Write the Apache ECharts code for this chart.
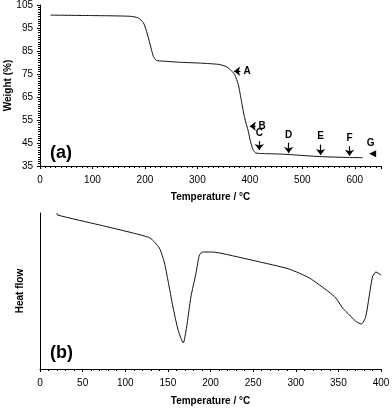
<!DOCTYPE html>
<html lang="en">
<head>
    <meta charset="UTF-8"/>
    <script type="text/javascript" src="https://cdn.jsdelivr.net/npm/echarts@6/dist/echarts.min.js"></script>
    <title>TGA / DSC</title>
    <style>
        body { margin: 0; background: #fff; }
        #main { width: 392px; height: 408px; }
    </style>
</head>
<body>
<div id="main"></div>
<script type="text/javascript">
    // (a) weight loss curve
    var tgaTemp   = [20, 100, 171, 187, 197, 203, 210, 216, 222, 235, 267, 300, 330, 343, 355, 362, 371, 378, 384, 390, 397, 401, 406, 411, 425, 457, 480, 533, 590, 615];
    var tgaWeight = [100.6, 100.4, 100.1, 99.4, 97.3, 93.6, 87.8, 82.7, 80.9, 80.6, 80.1, 79.8, 79.4, 79.1, 78.2, 77, 74.8, 70.4, 63.2, 56, 50.1, 45.8, 42.2, 40.7, 40.4, 40.2, 39.9, 39.1, 38.7, 38.6];
    var weightTicks = [35, 45, 55, 65, 75, 85, 95, 105];

    // arrows on (a): name, temperature, start and end of the arrow (weight for down arrows)
    var downNames = ['C', 'D', 'E', 'F'];
    var downTemp  = [418, 474, 535, 590];
    var downFrom  = [45.8, 45.1, 44.3, 43.6];
    var downTo    = [42.0, 40.6, 39.8, 39.5];
    var leftNames = ['A', 'B'];
    var leftWeight = [76.2, 52.3];
    var leftFrom  = [382, 411];
    var leftTo    = [370, 400];
    var gPoint = [634, 40.3];

    // (b) heat flow curve (arbitrary units)
    var dscTemp = [20, 20.5, 70, 109, 129, 140, 146, 150, 156, 162, 168, 172, 177, 183, 187, 191, 201, 211, 253, 292, 316, 339, 347, 355, 363, 370, 377, 382, 386, 390, 394, 400];
    var dscFlow = [156, 154, 144, 136, 131, 121, 106, 89, 62, 39, 26, 42, 72, 96, 114, 117, 117, 116, 108, 100, 91, 77, 71, 61, 54, 48, 45, 52, 72, 92, 97, 94];

    var tgaData = tgaTemp.map(function (t, i) { return [t, tgaWeight[i]]; });
    var dscData = dscTemp.map(function (t, i) { return [t, dscFlow[i]]; });

    var arrowLines = [];
    for (var i = 0; i < downNames.length; i++) {
        arrowLines.push([{coord: [downTemp[i], downFrom[i]], name: downNames[i]}, {coord: [downTemp[i], downTo[i]]}]);
    }
    for (var j = 0; j < leftNames.length; j++) {
        arrowLines.push([{coord: [leftFrom[j], leftWeight[j]], name: leftNames[j]}, {coord: [leftTo[j], leftWeight[j]]}]);
    }

    var font = 'Liberation Sans, Arial, sans-serif';
    var tickLabel = {color: '#000', fontSize: 10, fontFamily: font, margin: 9};
    var nameStyle = {color: '#000', fontSize: 10, fontWeight: 'bold', fontFamily: font};
    var axisLine = {lineStyle: {color: '#000', width: 1}};

    var myChart = echarts.init(document.getElementById('main'));
    var option = {
        animation: false,
        title: [
            {text: '(a)', left: 45, top: 139, textStyle: {fontSize: 18, fontWeight: 'bold', fontFamily: font, color: '#000'}},
            {text: '(b)', left: 45, top: 339, textStyle: {fontSize: 18, fontWeight: 'bold', fontFamily: font, color: '#000'}}
        ],
        grid: [
            {left: 40, top: 5, right: 11, height: 161, containLabel: false, outerBoundsMode: 'none'},
            {left: 40, top: 213, right: 11, height: 156, containLabel: false, outerBoundsMode: 'none'}
        ],
        xAxis: [{
            gridIndex: 0, type: 'value', min: 0, max: 650, interval: 100,
            name: 'Temperature / °C', nameLocation: 'middle', nameGap: 26, nameTextStyle: nameStyle,
            nameMoveOverlap: false,
            axisLine: axisLine,
            axisTick: {length: 3, lineStyle: {color: '#000'}},
            minorTick: {show: true, splitNumber: 10, length: 2, lineStyle: {color: '#000'}},
            axisLabel: Object.assign({showMaxLabel: false}, tickLabel),
            splitLine: {show: false}
        }, {
            gridIndex: 1, type: 'value', min: 0, max: 400, interval: 50,
            name: 'Temperature / °C', nameLocation: 'middle', nameGap: 27, nameTextStyle: nameStyle,
            nameMoveOverlap: false,
            axisLine: axisLine,
            axisTick: {length: 3, lineStyle: {color: '#000'}},
            minorTick: {show: true, splitNumber: 5, length: 2, lineStyle: {color: '#000'}},
            axisLabel: tickLabel,
            splitLine: {show: false}
        }],
        yAxis: [{
            gridIndex: 0, type: 'value', min: weightTicks[0], max: weightTicks[weightTicks.length - 1], interval: 10,
            name: 'Weight (%)', nameLocation: 'middle', nameGap: 27, nameTextStyle: nameStyle,
            nameMoveOverlap: false,
            axisLine: {show: true, lineStyle: {color: '#000', width: 1}},
            axisTick: {show: true, length: 3, lineStyle: {color: '#000'}},
            minorTick: {show: true, splitNumber: 10, length: 2, lineStyle: {color: '#000'}},
            axisLabel: {color: '#000', fontSize: 10, fontFamily: font, margin: 7},
            splitLine: {show: false}
        }, {
            gridIndex: 1, type: 'value', min: 0, max: 156,
            name: 'Heat flow', nameLocation: 'middle', nameGap: 15, nameTextStyle: nameStyle,
            nameMoveOverlap: false,
            axisLine: {show: true, lineStyle: {color: '#000', width: 1}},
            axisTick: {show: false},
            axisLabel: {show: false},
            splitLine: {show: false}
        }],
        series: [{
            type: 'line', xAxisIndex: 0, yAxisIndex: 0, data: tgaData,
            showSymbol: false, smooth: 0.2, lineStyle: {color: '#111', width: 1},
            markLine: {
                silent: true, symbol: ['none', 'arrow'], symbolSize: [7, 6],
                lineStyle: {color: '#000', width: 1.2, type: 'solid'},
                label: {show: true, position: 'start', formatter: '{b}', distance: 3,
                    color: '#000', fontSize: 10, fontWeight: 'bold', fontFamily: font},
                data: arrowLines
            },
            markPoint: {
                silent: true, symbol: 'triangle', symbolRotate: 90, symbolSize: [7, 7],
                itemStyle: {color: '#000'},
                label: {show: true, position: 'top', distance: 2, offset: [-2, 0], formatter: 'G',
                    color: '#000', fontSize: 10, fontWeight: 'bold', fontFamily: font},
                data: [{coord: gPoint}]
            }
        }, {
            type: 'line', xAxisIndex: 1, yAxisIndex: 1, data: dscData,
            showSymbol: false, smooth: 0.2, lineStyle: {color: '#111', width: 1}
        }]
    };
    myChart.setOption(option);
</script>
</body>
</html>
